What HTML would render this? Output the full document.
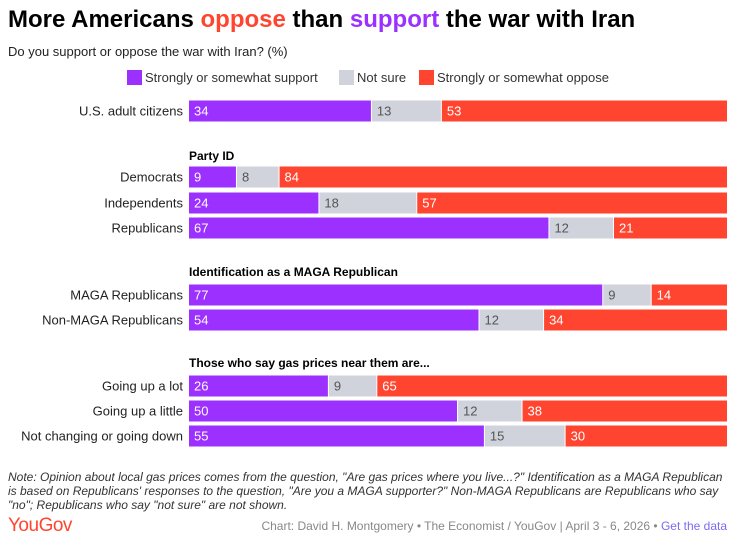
<!DOCTYPE html>
<html><head><meta charset="utf-8"><style>
body{margin:0;background:#fff;font-family:"Liberation Sans",sans-serif;}
svg{display:block}
</style></head><body>
<svg width="739" height="540" xmlns="http://www.w3.org/2000/svg" id="chart">
<text x="8" y="27" font-size="24" font-weight="bold" fill="#000">More Americans <tspan fill="#ff4530">oppose</tspan> than <tspan fill="#9b30ff">support</tspan> the war with Iran</text>
<text x="8" y="56" font-size="13" fill="#222">Do you support or oppose the war with Iran? (%)</text>
<g>
<rect x="127" y="70" width="15" height="15" fill="#9b30ff"/>
<text x="145" y="82" font-size="13" fill="#333">Strongly or somewhat support</text>
<rect x="339" y="70" width="15" height="15" fill="#d0d3dc"/>
<text x="357" y="82" font-size="13" fill="#333">Not sure</text>
<rect x="419" y="70" width="15" height="15" fill="#ff4530"/>
<text x="437" y="82" font-size="13" fill="#333">Strongly or somewhat oppose</text>
</g>
<text x="189" y="160" font-size="12" font-weight="bold" fill="#000">Party ID</text>
<text x="189" y="276" font-size="12" font-weight="bold" fill="#000">Identification as a MAGA Republican</text>
<text x="189" y="367" font-size="12" font-weight="bold" fill="#000">Those who say gas prices near them are...</text>
<g id="bars"></g>
<g font-size="12" font-style="italic" fill="#333">
<text x="8" y="481">Note: Opinion about local gas prices comes from the question, "Are gas prices where you live...?" Identification as a MAGA Republican</text>
<text x="8" y="495">is based on Republicans' responses to the question, "Are you a MAGA supporter?" Non-MAGA Republicans are Republicans who say</text>
<text x="8" y="509">"no"; Republicans who say "not sure" are not shown.</text>
</g>
<text x="8" y="531" font-size="19" fill="#ff4530" letter-spacing="-0.5">YouGov</text>
<text x="727" y="530" font-size="12" fill="#888" text-anchor="end">Chart: David H. Montgomery • The Economist / YouGov | April 3 - 6, 2026 • <tspan fill="#7b6cf0">Get the data</tspan></text>
</svg>
<script>
const categories=["U.S. adult citizens","Democrats","Independents","Republicans","MAGA Republicans","Non-MAGA Republicans","Going up a lot","Going up a little","Not changing or going down"];
const support=[34,9,24,67,77,54,26,50,55];
const notSure=[13,8,18,12,9,12,9,12,15];
const oppose=[53,84,57,21,14,34,65,38,30];
const rowY=[111,177,203,228,295,320,386,411,436];
const x0=189,x1=727,bh=21;
const g=document.getElementById('bars');
const NS="http://www.w3.org/2000/svg";
const colors=["#9b30ff","#d0d3dc","#ff4530"],tcol=["#fff","#555","#fff"];
categories.forEach((c,i)=>{
  const y=rowY[i];
  const total=support[i]+notSure[i]+oppose[i];
  const xs=v=>v/total*(x1-x0);
  const lab=document.createElementNS(NS,'text');
  lab.setAttribute('x',183);lab.setAttribute('y',y+4.5);lab.setAttribute('text-anchor','end');
  lab.setAttribute('font-size','13');lab.setAttribute('fill','#222');lab.textContent=c;
  
  
  g.appendChild(lab);
  let x=x0;
  [support[i],notSure[i],oppose[i]].forEach((v,k)=>{
    const w=xs(v);
    const r=document.createElementNS(NS,'rect');
    r.setAttribute('x',x);r.setAttribute('y',y-bh/2);r.setAttribute('width',Math.max(0,k<2?w-1:w));r.setAttribute('height',bh);r.setAttribute('fill',colors[k]);
    
    
    g.appendChild(r);
    const t=document.createElementNS(NS,'text');
    t.setAttribute('x',x+5);t.setAttribute('y',y+4.5);t.setAttribute('font-size','13');t.setAttribute('fill',tcol[k]);t.textContent=v;
    
    
    g.appendChild(t);
    x+=w;
  });
});
</script>
</body></html>
